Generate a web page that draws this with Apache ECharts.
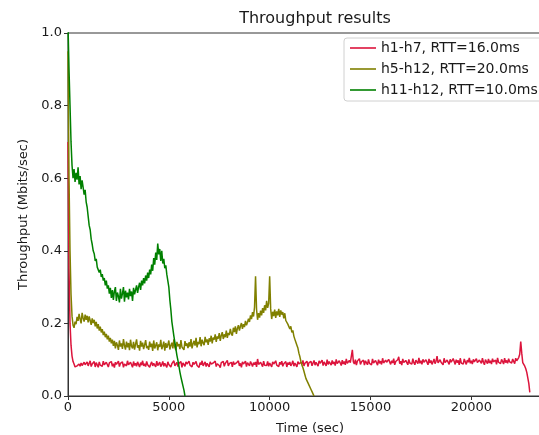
<!DOCTYPE html>
<html>
<head>
<meta charset="utf-8">
<script src="https://cdn.jsdelivr.net/npm/echarts@6/dist/echarts.min.js"></script>
<style>
  html, body { margin: 0; padding: 0; background: #fff; }
  #chart { width: 539px; height: 435px; }
</style>
</head>
<body>
<div id="chart"></div>
<script>
// Sampling interval of every throughput series, in seconds
const SAMPLE_STEP = 50;

const seriesNames = [
  'h1-h7, RTT=16.0ms',
  'h5-h12, RTT=20.0ms',
  'h11-h12, RTT=10.0ms'
];

// h1-h7 throughput (Mbits/sec), one sample every SAMPLE_STEP seconds from t=0
// (each row covers 1000 s)
const flowH1H7 = [
  0.70, 0.35, 0.20, 0.14, 0.11, 0.095, 0.088, 0.080, 0.076, 0.083, 0.079, 0.088, 0.082, 0.091, 0.084, 0.079, 0.093, 0.086, 0.081, 0.094,
  0.083, 0.090, 0.097, 0.081, 0.088, 0.084, 0.095, 0.080, 0.092, 0.087, 0.079, 0.094, 0.085, 0.090, 0.082, 0.096, 0.086, 0.081, 0.093, 0.088,
  0.080, 0.091, 0.086, 0.095, 0.082, 0.089, 0.078, 0.093, 0.087, 0.084, 0.096, 0.081, 0.090, 0.085, 0.094, 0.079, 0.088, 0.092, 0.083, 0.097,
  0.086, 0.081, 0.093, 0.088, 0.079, 0.095, 0.084, 0.090, 0.082, 0.094, 0.087, 0.080, 0.092, 0.085, 0.097, 0.083, 0.089, 0.081, 0.095, 0.086,
  0.091, 0.079, 0.088, 0.094, 0.083, 0.090, 0.086, 0.080, 0.096, 0.084, 0.089, 0.093, 0.081, 0.087, 0.095, 0.082, 0.090, 0.085, 0.079, 0.094,
  0.087, 0.092, 0.080, 0.089, 0.084, 0.097, 0.083, 0.088, 0.093, 0.081, 0.090, 0.085, 0.095, 0.079, 0.091, 0.086, 0.082, 0.094, 0.088, 0.083,
  0.096, 0.085, 0.090, 0.080, 0.093, 0.087, 0.082, 0.095, 0.084, 0.089, 0.079, 0.092, 0.086, 0.097, 0.083, 0.088, 0.094, 0.081, 0.090, 0.085,
  0.080, 0.094, 0.088, 0.083, 0.091, 0.086, 0.096, 0.081, 0.089, 0.093, 0.084, 0.078, 0.092, 0.087, 0.095, 0.082, 0.090, 0.085, 0.098, 0.083,
  0.089, 0.084, 0.093, 0.080, 0.095, 0.087, 0.082, 0.091, 0.086, 0.097, 0.083, 0.090, 0.079, 0.094, 0.088, 0.085, 0.096, 0.081, 0.092, 0.087,
  0.083, 0.095, 0.089, 0.081, 0.092, 0.086, 0.094, 0.080, 0.102, 0.087, 0.083, 0.093, 0.088, 0.081, 0.096, 0.085, 0.090, 0.084, 0.095, 0.082,
  0.091, 0.086, 0.080, 0.094, 0.088, 0.083, 0.097, 0.085, 0.090, 0.081, 0.093, 0.087, 0.096, 0.082, 0.089, 0.084, 0.095, 0.080, 0.092, 0.086,
  0.094, 0.083, 0.089, 0.097, 0.082, 0.091, 0.086, 0.080, 0.095, 0.088, 0.084, 0.093, 0.087, 0.098, 0.083, 0.090, 0.085, 0.096, 0.081, 0.092,
  0.087, 0.095, 0.083, 0.091, 0.098, 0.085, 0.093, 0.088, 0.082, 0.097, 0.090, 0.086, 0.099, 0.084, 0.094, 0.089, 0.083, 0.100, 0.087, 0.095,
  0.090, 0.085, 0.098, 0.088, 0.094, 0.084, 0.101, 0.089, 0.086, 0.097, 0.091, 0.084, 0.099, 0.088, 0.095, 0.086, 0.102, 0.090, 0.085, 0.098,
  0.092, 0.087, 0.127, 0.094, 0.088, 0.100, 0.085, 0.096, 0.091, 0.103, 0.087, 0.094, 0.089, 0.099, 0.085, 0.097, 0.092, 0.086, 0.101, 0.090,
  0.095, 0.086, 0.102, 0.091, 0.088, 0.098, 0.093, 0.085, 0.100, 0.090, 0.096, 0.087, 0.104, 0.091, 0.086, 0.099, 0.093, 0.088, 0.101, 0.094,
  0.087, 0.097, 0.091, 0.103, 0.086, 0.095, 0.090, 0.100, 0.108, 0.089, 0.096, 0.085, 0.102, 0.092, 0.088, 0.098, 0.094, 0.086, 0.101, 0.091,
  0.096, 0.088, 0.103, 0.092, 0.086, 0.099, 0.094, 0.089, 0.105, 0.090, 0.097, 0.087, 0.101, 0.093, 0.088, 0.100, 0.095, 0.086, 0.102, 0.091,
  0.098, 0.087, 0.094, 0.102, 0.089, 0.096, 0.110, 0.091, 0.087, 0.100, 0.093, 0.098, 0.086, 0.104, 0.092, 0.088, 0.099, 0.094, 0.087, 0.101,
  0.093, 0.089, 0.103, 0.095, 0.087, 0.100, 0.092, 0.098, 0.086, 0.104, 0.091, 0.096, 0.088, 0.102, 0.094, 0.087, 0.099, 0.093, 0.105, 0.090,
  0.097, 0.088, 0.101, 0.094, 0.089, 0.103, 0.092, 0.087, 0.099, 0.095, 0.090, 0.104, 0.093, 0.086, 0.100, 0.096, 0.089, 0.102, 0.091, 0.097,
  0.088, 0.103, 0.094, 0.090, 0.099, 0.087, 0.105, 0.093, 0.097, 0.089, 0.101, 0.095, 0.088, 0.104, 0.092, 0.098, 0.090, 0.103, 0.094, 0.099,
  0.091, 0.102, 0.095, 0.089, 0.104, 0.097, 0.092, 0.106, 0.115, 0.150, 0.118, 0.092, 0.088, 0.082, 0.075, 0.065, 0.050, 0.035, 0.010
];

// h5-h12 throughput (Mbits/sec)
const flowH5H12 = [
  0.95, 0.60, 0.40, 0.28, 0.22, 0.195, 0.188, 0.205, 0.198, 0.218, 0.207, 0.226, 0.212, 0.200, 0.229, 0.215, 0.205, 0.224, 0.210, 0.221,
  0.203, 0.219, 0.208, 0.196, 0.214, 0.201, 0.210, 0.192, 0.204, 0.186, 0.198, 0.180, 0.191, 0.175, 0.184, 0.168, 0.177, 0.162, 0.171, 0.156,
  0.166, 0.150, 0.160, 0.145, 0.155, 0.138, 0.152, 0.131, 0.148, 0.140, 0.127, 0.153, 0.136, 0.145, 0.130, 0.157, 0.139, 0.128, 0.150, 0.134,
  0.146, 0.126, 0.155, 0.137, 0.131, 0.149, 0.128, 0.143, 0.156, 0.133, 0.140, 0.125, 0.152, 0.136, 0.147, 0.129, 0.141, 0.154, 0.132, 0.138,
  0.127, 0.150, 0.135, 0.144, 0.124, 0.153, 0.131, 0.139, 0.148, 0.126, 0.142, 0.135, 0.155, 0.129, 0.137, 0.150, 0.125, 0.146, 0.133, 0.141,
  0.153, 0.128, 0.139, 0.147, 0.131, 0.156, 0.134, 0.126, 0.149, 0.137, 0.143, 0.129, 0.154, 0.135, 0.140, 0.127, 0.151, 0.138, 0.145, 0.132,
  0.148, 0.136, 0.157, 0.131, 0.144, 0.152, 0.139, 0.160, 0.134, 0.149, 0.143, 0.162, 0.137, 0.155, 0.146, 0.140, 0.163, 0.148, 0.156, 0.141,
  0.159, 0.150, 0.166, 0.145, 0.161, 0.155, 0.170, 0.149, 0.164, 0.158, 0.173, 0.152, 0.167, 0.176, 0.157, 0.170, 0.162, 0.180, 0.160, 0.174,
  0.168, 0.185, 0.172, 0.166, 0.188, 0.176, 0.192, 0.171, 0.186, 0.195, 0.180, 0.192, 0.201, 0.185, 0.198, 0.190, 0.207, 0.195, 0.203, 0.213,
  0.204, 0.222, 0.212, 0.231, 0.219, 0.245, 0.330, 0.238, 0.210, 0.228, 0.216, 0.235, 0.222, 0.242, 0.229, 0.250, 0.236, 0.262, 0.243, 0.255,
  0.330, 0.240, 0.212, 0.232, 0.220, 0.238, 0.215, 0.233, 0.222, 0.240, 0.218, 0.236, 0.224, 0.231, 0.214, 0.228, 0.208, 0.212, 0.198, 0.203,
  0.185, 0.192, 0.175, 0.181, 0.165, 0.156, 0.148, 0.140, 0.132, 0.118, 0.108, 0.095, 0.085, 0.078, 0.068, 0.058, 0.048, 0.044, 0.036, 0.030,
  0.025, 0.018, 0.012, 0.006, 0.0
];

// h11-h12 throughput (Mbits/sec)
const flowH11H12 = [
  1.02, 0.90, 0.80, 0.70, 0.635, 0.600, 0.625, 0.590, 0.615, 0.596, 0.630, 0.583, 0.606, 0.570, 0.594, 0.575, 0.555, 0.568, 0.535, 0.520,
  0.495, 0.470, 0.458, 0.432, 0.418, 0.400, 0.392, 0.372, 0.378, 0.355, 0.360, 0.340, 0.348, 0.328, 0.336, 0.318, 0.325, 0.305, 0.318, 0.296,
  0.305, 0.282, 0.298, 0.270, 0.292, 0.265, 0.288, 0.300, 0.262, 0.285, 0.275, 0.258, 0.295, 0.268, 0.282, 0.300, 0.260, 0.290, 0.272, 0.285,
  0.266, 0.295, 0.275, 0.288, 0.262, 0.298, 0.280, 0.292, 0.305, 0.284, 0.300, 0.312, 0.292, 0.318, 0.305, 0.325, 0.310, 0.332, 0.318, 0.340,
  0.325, 0.348, 0.335, 0.362, 0.345, 0.380, 0.362, 0.395, 0.375, 0.420, 0.390, 0.405, 0.372, 0.400, 0.365, 0.378, 0.352, 0.360, 0.335, 0.340,
  0.300, 0.265, 0.238, 0.205, 0.185, 0.165, 0.148, 0.130, 0.112, 0.098, 0.082, 0.066, 0.052, 0.040, 0.028, 0.016, 0.0
];

const seriesValues = [flowH1H7, flowH5H12, flowH11H12];
const seriesColors = ['#DC143C', '#808000', '#008000'];

function toPairs(values) {
  return values.map((v, i) => [i * SAMPLE_STEP, v]);
}

const FONT = 'DejaVu Sans';
const TEXT = '#1a1a1a';
const AXIS = '#333333';

const chart = echarts.init(document.getElementById('chart'), null, { renderer: 'canvas' });

chart.setOption({
  animation: false,
  backgroundColor: '#ffffff',
  title: {
    text: 'Throughput results',
    left: 310,
    textAlign: 'center',
    top: 6,
    textStyle: { fontFamily: FONT, fontSize: 16, fontWeight: 'normal', color: TEXT }
  },
  legend: {
    orient: 'vertical',
    left: 344,
    top: 38,
    padding: [3, 6, 4, 6],
    itemGap: 7,
    itemWidth: 26,
    itemHeight: 1.6,
    icon: 'rect',
    backgroundColor: '#ffffff',
    borderColor: '#d0d0d0',
    borderWidth: 1,
    borderRadius: 3,
    textStyle: { fontFamily: FONT, fontSize: 14, color: TEXT, lineHeight: 14 },
    data: seriesNames
  },
  grid: {
    left: 68,
    top: 33,
    width: 484,
    height: 363,
    outerBoundsMode: 'none',
    containLabel: false,
    show: true,
    borderColor: AXIS,
    borderWidth: 1,
    backgroundColor: 'transparent'
  },
  xAxis: {
    type: 'value',
    min: 0,
    max: 24000,
    interval: 5000,
    name: 'Time (sec)',
    nameLocation: 'middle',
    nameGap: 26,
    nameTextStyle: { fontFamily: FONT, fontSize: 13, color: TEXT },
    axisLine: { show: true, lineStyle: { color: AXIS, width: 1 } },
    axisTick: { show: true, length: 4, lineStyle: { color: AXIS } },
    axisLabel: {
      fontFamily: FONT, fontSize: 13, color: TEXT, margin: 5, showMaxLabel: false,
      formatter: v => String(v)
    },
    splitLine: { show: false }
  },
  yAxis: {
    type: 'value',
    min: 0,
    max: 1,
    interval: 0.2,
    name: 'Throughput (Mbits/sec)',
    nameLocation: 'middle',
    nameGap: 37,
    nameRotate: 90,
    nameTextStyle: { fontFamily: FONT, fontSize: 13, color: TEXT },
    axisLine: { show: true, lineStyle: { color: AXIS, width: 1 } },
    axisTick: { show: true, length: 4, lineStyle: { color: AXIS } },
    axisLabel: {
      fontFamily: FONT, fontSize: 13, color: TEXT, margin: 6,
      formatter: v => v.toFixed(1)
    },
    splitLine: { show: false }
  },
  series: seriesNames.map((name, k) => ({
    name,
    type: 'line',
    data: toPairs(seriesValues[k]),
    color: seriesColors[k],
    showSymbol: false,
    symbol: 'none',
    clip: true,
    lineStyle: { width: 1.5, color: seriesColors[k] }
  }))
});
</script>
</body>
</html>
